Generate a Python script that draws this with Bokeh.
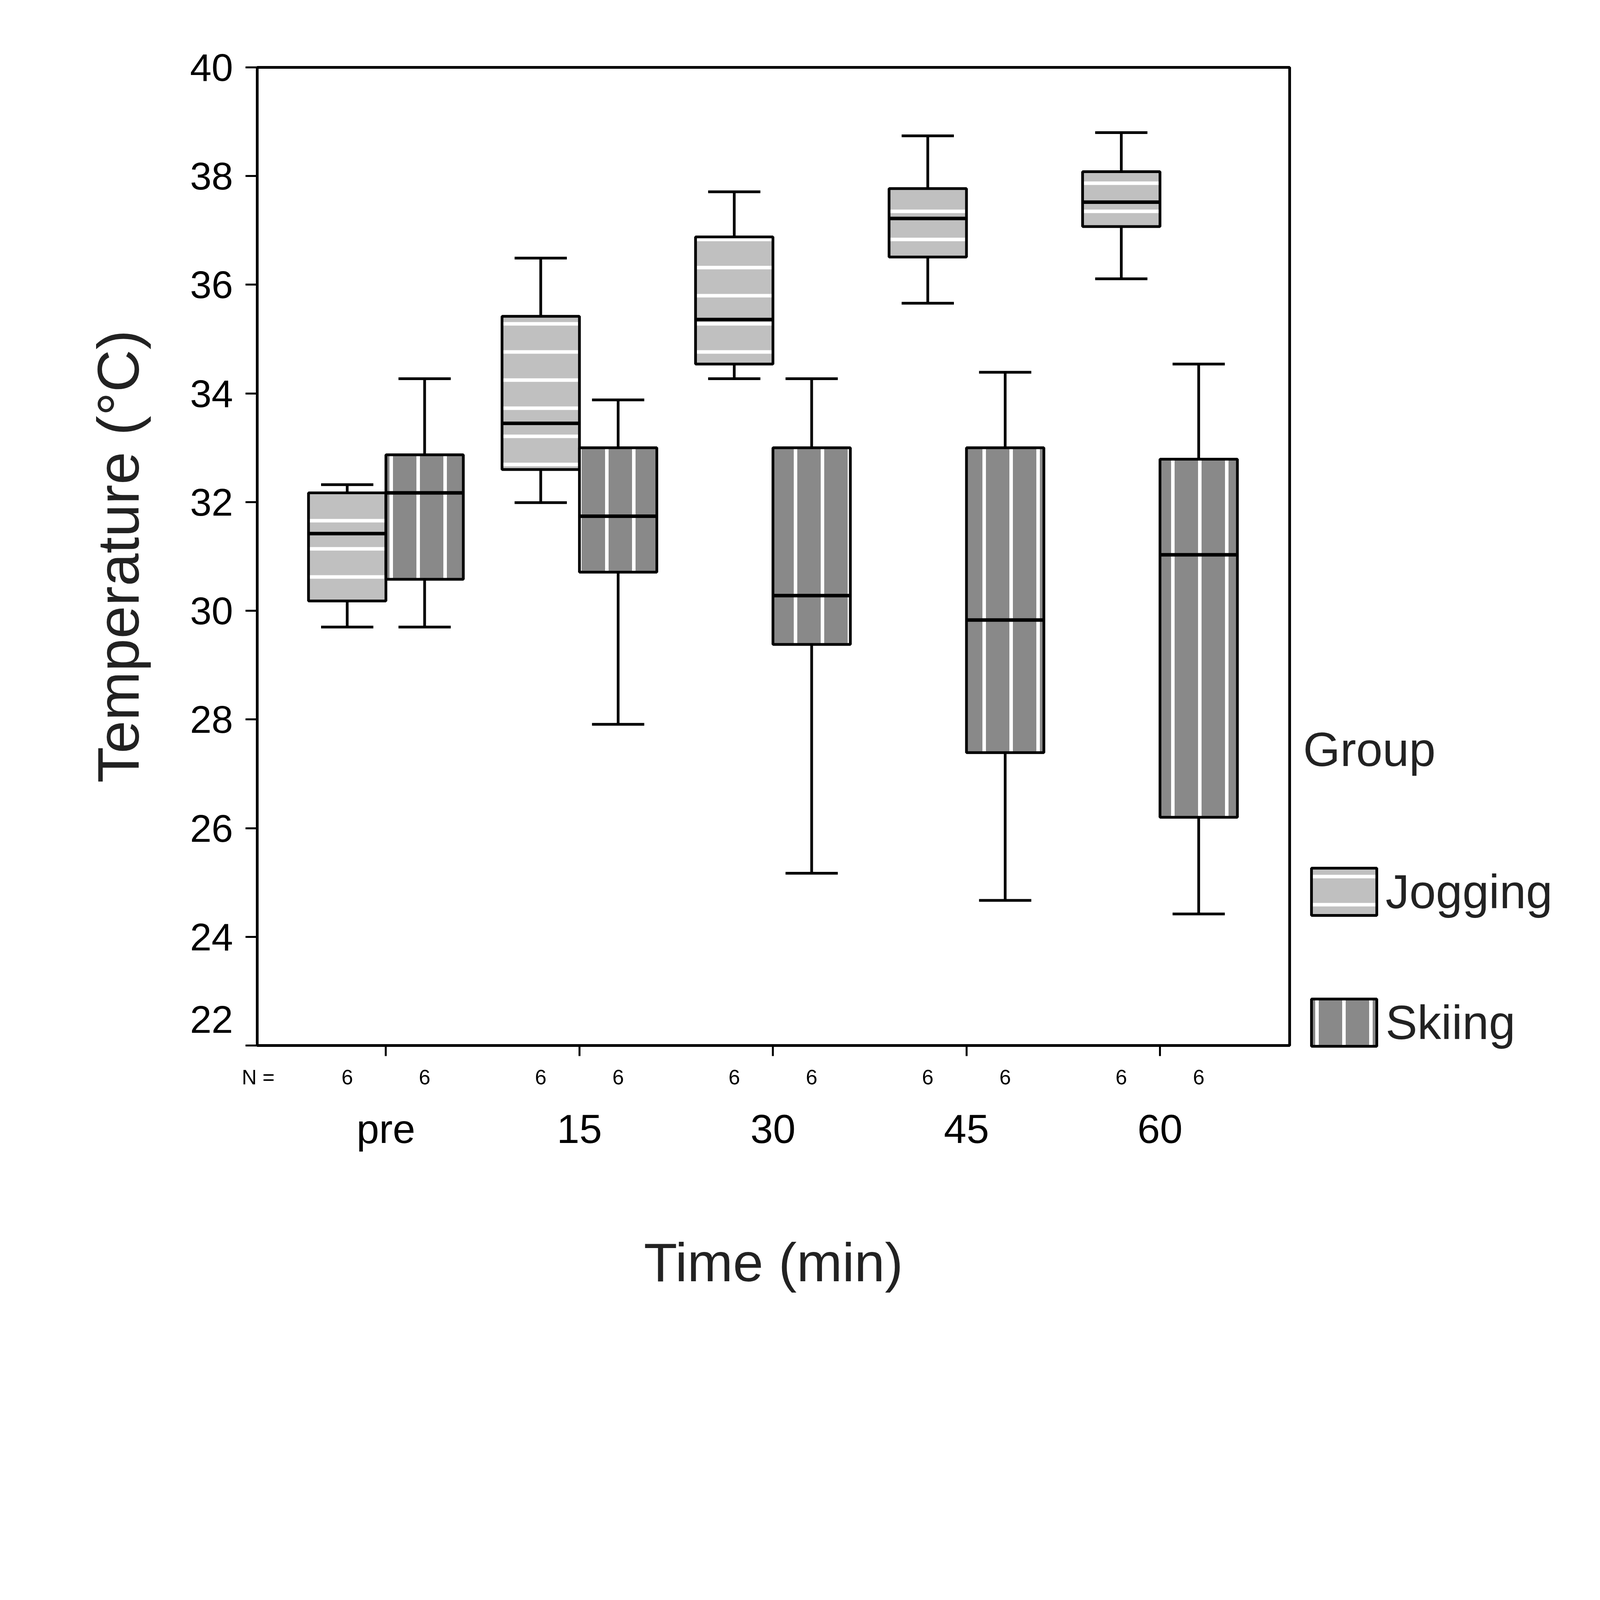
from bokeh.plotting import figure
from bokeh.models import (Range1d, LinearAxis, FixedTicker, CustomJSTickFormatter,
                          Legend, LegendItem)
from bokeh.embed import file_html
from bokeh.resources import INLINE

# values
groups = ["pre", "15", "30", "45", "60"]
n_jog = [6, 6, 6, 6, 6]
n_ski = [6, 6, 6, 6, 6]

jog_low = [29.70, 31.99, 34.27, 35.66, 36.11]
jog_q1 = [30.18, 32.60, 34.54, 36.51, 37.07]
jog_med = [31.42, 33.45, 35.36, 37.22, 37.52]
jog_q3 = [32.17, 35.42, 36.88, 37.77, 38.08]
jog_high = [32.32, 36.49, 37.71, 38.74, 38.80]

ski_low = [29.70, 27.91, 25.17, 24.67, 24.42]
ski_q1 = [30.58, 30.71, 29.38, 27.39, 26.20]
ski_med = [32.17, 31.74, 30.28, 29.83, 31.03]
ski_q3 = [32.87, 33.00, 33.00, 33.00, 32.79]
ski_high = [34.27, 33.88, 34.27, 34.39, 34.54]

y_ticks = [22, 24, 26, 28, 30, 32, 34, 36, 38, 40]
# the lowest label sits a little above its tick in the original
y_labels = ["22\n "] + [str(t) for t in y_ticks[1:]]

FONT = "Liberation Sans"
box_w = 0.4
cap_w = 0.27
x_lo, x_hi = -0.665, 4.67

p = figure(frame_width=2643, frame_height=2504,
           x_range=Range1d(x_lo, x_hi), y_range=Range1d(22, 40),
           min_border_left=658, min_border_right=779,
           min_border_top=172, min_border_bottom=724,
           x_axis_type=None, y_axis_type=None,
           output_backend="svg", toolbar_location=None)
p.grid.visible = False
p.outline_line_color = "black"
p.outline_line_width = 7
p.background_fill_color = "white"


def draw_boxes(offset, low, q1, med, q3, high, fill, pattern, hatch_step):
    xs = [i + offset for i in range(len(groups))]
    p.segment(x0=xs, y0=q3, x1=xs, y1=high, line_color="black", line_width=7)
    p.segment(x0=xs, y0=q1, x1=xs, y1=low, line_color="black", line_width=7)
    p.segment(x0=[x - cap_w / 2 for x in xs], y0=high, x1=[x + cap_w / 2 for x in xs], y1=high,
              line_color="black", line_width=7)
    p.segment(x0=[x - cap_w / 2 for x in xs], y0=low, x1=[x + cap_w / 2 for x in xs], y1=low,
              line_color="black", line_width=7)
    box = p.quad(left=[x - box_w / 2 for x in xs], right=[x + box_w / 2 for x in xs],
                 bottom=q1, top=q3, fill_color=fill, line_color="black", line_width=7,
                 hatch_pattern=pattern, hatch_color="white", hatch_scale=hatch_step, hatch_weight=9)
    p.segment(x0=[x - box_w / 2 for x in xs], y0=med, x1=[x + box_w / 2 for x in xs], y1=med,
              line_color="black", line_width=9)
    return xs, box


jog_x, jog_box = draw_boxes(-0.2, jog_low, jog_q1, jog_med, jog_q3, jog_high,
                            "#c0c0c0", "horizontal_line", 72)
ski_x, ski_box = draw_boxes(0.2, ski_low, ski_q1, ski_med, ski_q3, ski_high,
                            "#898989", "vertical_line", 69)

# y axis
yaxis = LinearAxis(ticker=FixedTicker(ticks=y_ticks), axis_label="Temperature (°C)",
                   formatter=CustomJSTickFormatter(args=dict(labels=y_labels), code="return labels[index]"))
yaxis.axis_line_width = 7
yaxis.major_tick_line_width = 5
yaxis.major_tick_out = 30
yaxis.major_tick_in = 0
yaxis.minor_tick_line_color = None
yaxis.major_label_standoff = 32
yaxis.major_label_text_font = FONT
yaxis.major_label_text_font_size = "99px"
yaxis.major_label_text_color = "black"
yaxis.axis_label_text_font = FONT
yaxis.axis_label_text_font_size = "151px"
yaxis.axis_label_text_font_style = "normal"
yaxis.axis_label_text_color = "#222222"
yaxis.axis_label_standoff = 96
p.add_layout(yaxis, "left")

# x axis: category ticks (minor) and the N row under each box
n_pos = x_lo + 0.005
box_x = sorted(jog_x + ski_x)
n_labels = ["N ="] + [str(n) for _, n in sorted(zip(jog_x + ski_x, n_jog + n_ski))]
xa = LinearAxis(ticker=FixedTicker(ticks=[n_pos] + box_x, minor_ticks=list(range(len(groups)))),
                formatter=CustomJSTickFormatter(args=dict(labels=n_labels), code="return labels[index]"))
xa.axis_line_width = 7
xa.major_tick_line_color = None
xa.major_tick_out = 0
xa.major_tick_in = 0
xa.minor_tick_line_width = 5
xa.minor_tick_out = 27
xa.minor_tick_in = 0
xa.major_label_standoff = 24
xa.major_label_text_font = FONT
xa.major_label_text_font_size = "53px"
xa.major_label_text_color = "black"
p.add_layout(xa, "below")

xc = LinearAxis(ticker=FixedTicker(ticks=list(range(len(groups)))),
                formatter=CustomJSTickFormatter(args=dict(labels=groups), code="return labels[index]"),
                axis_label="Time (min)")
xc.axis_line_color = None
xc.major_tick_line_color = None
xc.minor_tick_line_color = None
xc.major_label_standoff = 36
xc.major_label_text_font = FONT
xc.major_label_text_font_size = "104px"
xc.major_label_text_color = "black"
xc.axis_label_text_font = FONT
xc.axis_label_text_font_size = "140px"
xc.axis_label_text_font_style = "normal"
xc.axis_label_text_color = "#222222"
xc.axis_label_standoff = 202
p.add_layout(xc, "below")

legend = Legend(items=[LegendItem(label="Jogging", renderers=[jog_box]),
                       LegendItem(label="Skiing", renderers=[ski_box])],
                title="Group", location=(35, -17), margin=0, padding=0,
                border_line_color=None, background_fill_alpha=0,
                glyph_width=209, glyph_height=151, label_height=151,
                label_standoff=2, spacing=184, title_standoff=218,
                label_text_font=FONT, label_text_font_size="122px",
                title_text_font=FONT, title_text_font_size="122px", title_text_font_style="normal",
                label_text_color="#222222", title_text_color="#222222")
p.add_layout(legend, "right")

open("out.html", "w").write(file_html(p, INLINE))
